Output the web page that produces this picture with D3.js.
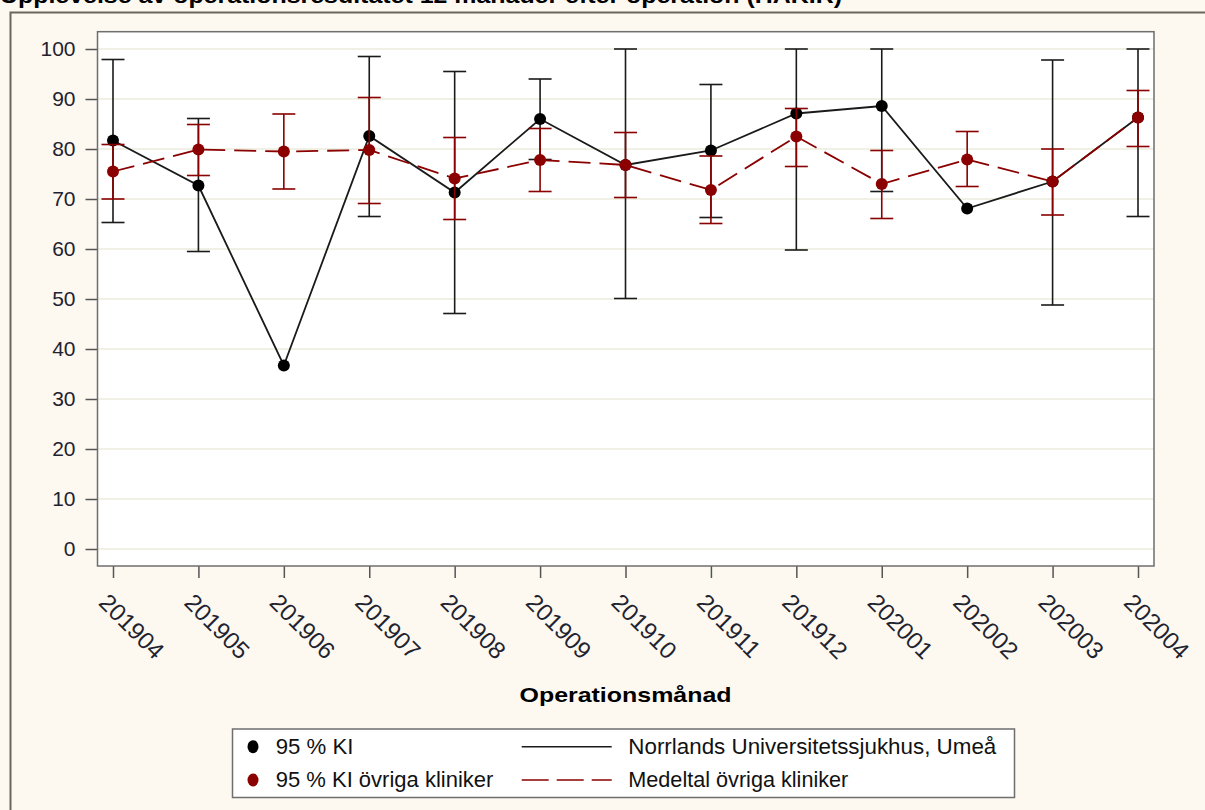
<!DOCTYPE html>
<html>
<head>
<meta charset="utf-8">
<script src="https://cdn.jsdelivr.net/npm/d3@7"></script>
<style>
body{margin:0;background:#fdf9f0;}
svg{display:block;font-family:"Liberation Sans",Arial,sans-serif;}
</style>
</head>
<body>
<script>
// data
var months = ["201904","201905","201906","201907","201908","201909","201910","201911","201912","202001","202002","202003","202004"];
var nusMean = [81.7, 72.7, 36.7, 82.6, 71.3, 86.0, 76.8, 79.7, 87.1, 88.6, 68.1, 73.5, 86.3];
var nusLow  = [65.3, 59.5, null, 66.5, 47.1, 77.9, 50.1, 66.3, 59.8, 71.5, null, 48.8, 66.5];
var nusHigh = [97.9, 86.1, null, 98.5, 95.5, 94.0, 100, 92.9, 100, 100, null, 97.8, 100];
var othMean = [75.5, 79.9, 79.5, 79.8, 74.1, 77.8, 76.8, 71.8, 82.5, 73.0, 77.9, 73.5, 86.3];
var othLow  = [70.0, 74.7, 72.0, 69.1, 65.9, 71.5, 70.3, 65.1, 76.5, 66.1, 72.5, 66.8, 80.5];
var othHigh = [80.9, 84.9, 87.0, 90.3, 82.3, 84.1, 83.3, 78.6, 88.1, 79.7, 83.5, 80.0, 91.7];
var yTicks = [0,10,20,30,40,50,60,70,80,90,100];

var title = "Upplevelse av operationsresultatet 12 månader efter operation (HAKIR)";
var xTitle = "Operationsmånad";
var legendItems = ["95 % KI", "95 % KI övriga kliniker", "Norrlands Universitetssjukhus, Umeå", "Medeltal övriga kliniker"];

var W = 1205, H = 810;
var box = {left: 97.5, top: 31.7, right: 1154, bottom: 566};
var red = "#8b0000";

var svg = d3.select("body").append("svg").attr("width", W).attr("height", H);

// outer frame
svg.append("rect").attr("x", 10.5).attr("y", 12.5).attr("width", W + 20).attr("height", H + 20)
	.attr("fill", "#fdf9f0").attr("stroke", "#6b675c").attr("stroke-width", 2);

// title (cut at top like the source)
svg.append("text").attr("x", 0).attr("y", 3).attr("font-weight", "bold").attr("font-size", 22)
	.attr("textLength", 842).attr("lengthAdjust", "spacingAndGlyphs").attr("fill", "#000").text(title);

var x = d3.scalePoint().domain(months).range([113, 1138]);
var y = d3.scaleLinear().domain([0, 100]).range([549, 49]);

// plot area
svg.append("rect").attr("x", box.left).attr("y", box.top)
	.attr("width", box.right - box.left).attr("height", box.bottom - box.top)
	.attr("fill", "#fff");

svg.append("g").selectAll("line").data(yTicks).join("line")
	.attr("x1", box.left).attr("x2", box.right)
	.attr("y1", function(d){return y(d);}).attr("y2", function(d){return y(d);})
	.attr("stroke", "#ecebdc").attr("stroke-width", 1.5);

// y axis
var gy = svg.append("g").attr("transform", "translate(" + box.left + ",0)")
	.call(d3.axisLeft(y).tickValues(yTicks).tickSize(12).tickPadding(10));
gy.select(".domain").remove();
gy.selectAll("line").attr("stroke", "#555").attr("stroke-width", 1.5);
gy.selectAll("text").attr("font-size", 21).attr("fill", "#1f2330").attr("font-family", "Liberation Sans, Arial, sans-serif");

// x axis
var gx = svg.append("g").attr("transform", "translate(0," + box.bottom + ")")
	.call(d3.axisBottom(x).tickSize(12));
gx.select(".domain").remove();
gx.selectAll("line").attr("stroke", "#555").attr("stroke-width", 1.5);
gx.selectAll("text")
	.attr("font-size", 24).attr("fill", "#1f2330").attr("font-family", "Liberation Sans, Arial, sans-serif")
	.attr("text-anchor", "start").attr("dy", null).attr("y", 0)
	.attr("transform", "translate(-16,38) rotate(45)");

svg.append("text").attr("x", 625.5).attr("y", 701.5).attr("text-anchor", "middle")
	.attr("font-weight", "bold").attr("font-size", 21)
	.attr("textLength", 212).attr("lengthAdjust", "spacingAndGlyphs").text(xTitle);

function drawErr(g, lo, hi, color, capW) {
	var idx = d3.range(months.length).filter(function(i){return lo[i] != null;});
	g.selectAll("line.v").data(idx).join("line").attr("class", "v")
		.attr("x1", function(i){return x(months[i]);}).attr("x2", function(i){return x(months[i]);})
		.attr("y1", function(i){return y(lo[i]);}).attr("y2", function(i){return y(hi[i]);})
		.attr("stroke", color).attr("stroke-width", 1.6);
	[lo, hi].forEach(function(arr, k) {
		g.selectAll("line.c" + k).data(idx).join("line").attr("class", "c" + k)
			.attr("x1", function(i){return x(months[i]) - capW;}).attr("x2", function(i){return x(months[i]) + capW;})
			.attr("y1", function(i){return y(arr[i]);}).attr("y2", function(i){return y(arr[i]);})
			.attr("stroke", color).attr("stroke-width", 1.6);
	});
}

var line = d3.line().x(function(d, i){return x(months[i]);}).y(function(d){return y(d);});

// Norrlands series
var gN = svg.append("g");
drawErr(gN, nusLow, nusHigh, "#1a1a1a", 11.5);
gN.append("path").datum(nusMean).attr("d", line).attr("fill", "none").attr("stroke", "#1a1a1a").attr("stroke-width", 1.8);
gN.selectAll("circle").data(nusMean).join("circle")
	.attr("cx", function(d, i){return x(months[i]);}).attr("cy", function(d){return y(d);})
	.attr("r", 6).attr("fill", "#000");

// other clinics
var gO = svg.append("g");
drawErr(gO, othLow, othHigh, red, 11.5);
gO.append("path").datum(othMean).attr("d", line).attr("fill", "none").attr("stroke", red)
	.attr("stroke-width", 1.8).attr("stroke-dasharray", "22,9");
gO.selectAll("circle").data(othMean).join("circle")
	.attr("cx", function(d, i){return x(months[i]);}).attr("cy", function(d){return y(d);})
	.attr("r", 6).attr("fill", red);

// plot border
svg.append("rect").attr("x", box.left).attr("y", box.top)
	.attr("width", box.right - box.left).attr("height", box.bottom - box.top)
	.attr("fill", "none").attr("stroke", "#6e6e6e").attr("stroke-width", 1.5);

// legend
var lg = svg.append("g");
lg.append("rect").attr("x", 232.5).attr("y", 729).attr("width", 782).attr("height", 68.5)
	.attr("fill", "#fff").attr("stroke", "#6e6e6e").attr("stroke-width", 1.5);
var rows = [746.7, 780];
var textW = [77.7, 217.7, 368, 220];
lg.append("ellipse").attr("cx", 253).attr("cy", rows[0]).attr("rx", 5.5).attr("ry", 6.5).attr("fill", "#000");
lg.append("ellipse").attr("cx", 253).attr("cy", rows[1]).attr("rx", 5.5).attr("ry", 6.5).attr("fill", red);
lg.append("line").attr("x1", 521.7).attr("x2", 611.7).attr("y1", rows[0]).attr("y2", rows[0])
	.attr("stroke", "#1a1a1a").attr("stroke-width", 1.6);
lg.append("line").attr("x1", 521.7).attr("x2", 611.7).attr("y1", rows[1]).attr("y2", rows[1])
	.attr("stroke", red).attr("stroke-width", 1.6).attr("stroke-dasharray", "27,8");
legendItems.forEach(function(t, i) {
	lg.append("text").attr("x", i < 2 ? 275.7 : 628.3).attr("y", rows[i % 2] + 7.2)
		.attr("font-size", 22).attr("fill", "#111")
		.attr("textLength", textW[i]).attr("lengthAdjust", "spacingAndGlyphs").text(t);
});
</script>
</body>
</html>
